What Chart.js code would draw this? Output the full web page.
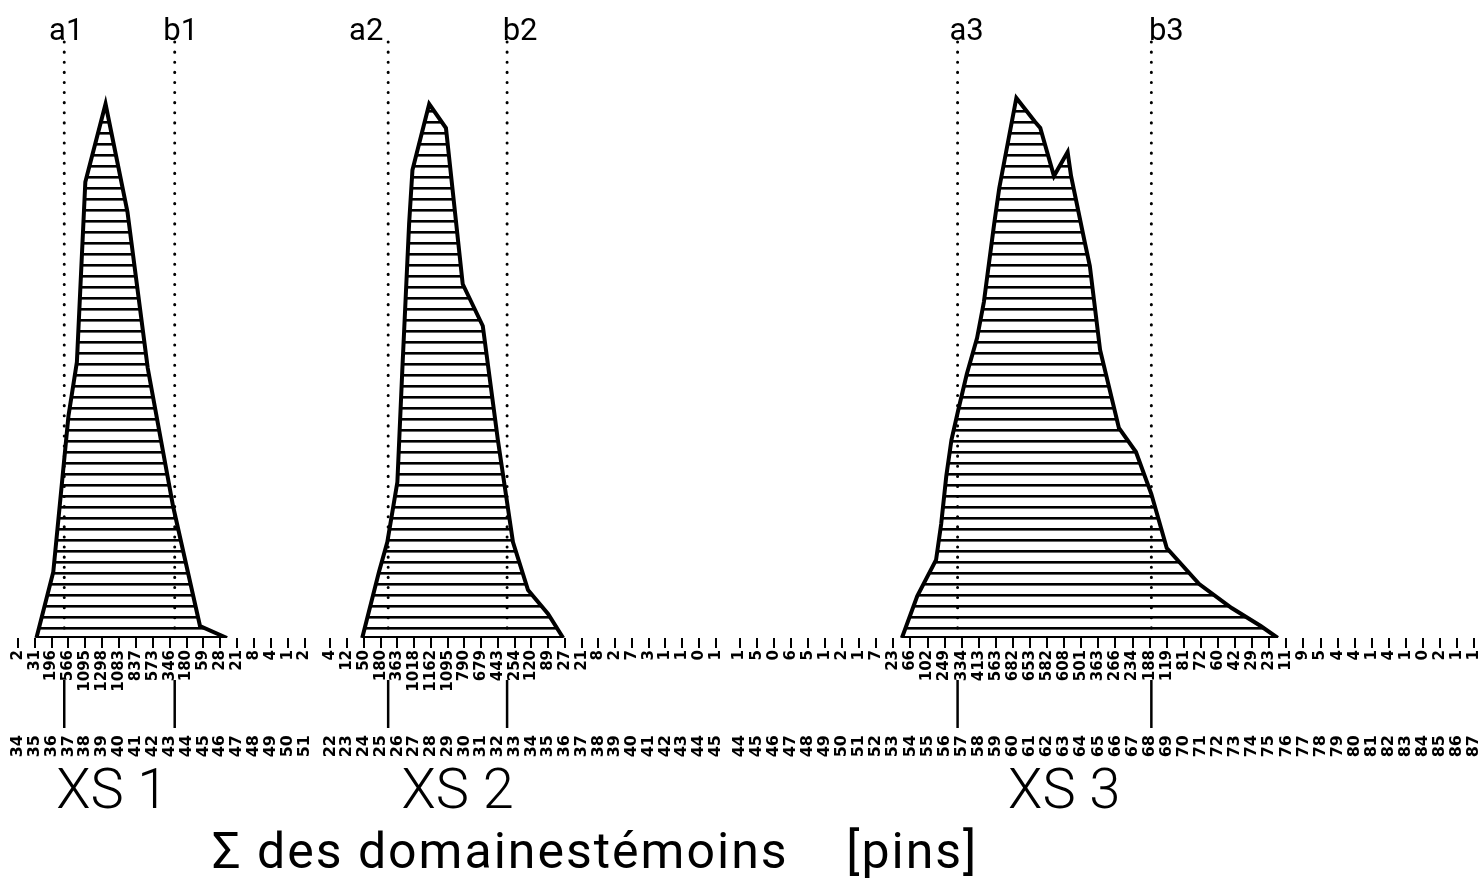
<!DOCTYPE html>
<html>
<head>
<meta charset="utf-8">
<script src="https://cdn.jsdelivr.net/npm/chart.js@4.4.0/dist/chart.umd.min.js"></script>
<style>
  html, body { margin: 0; background: #fff; overflow: hidden; width: 1482px; height: 880px; }
  canvas { position: absolute; top: 0; }
  #caption { position: absolute; left: 212px; top: 826px; font: 50px Roboto, sans-serif; line-height: 50px;
             white-space: pre; letter-spacing: 2px; color: #000; }
</style>
</head>
<body>
<canvas id="xs1" width="312" height="880" style="left:1px"></canvas>
<canvas id="xs2" width="402" height="880" style="left:322px"></canvas>
<canvas id="xs3" width="751" height="880" style="left:731px"></canvas>
<div id="caption">Σ des domainestémoins    [pins]</div>
<script>
// positions (bottom row) and counts (top row) per section
const xs1Pos = [34, 35, 36, 37, 38, 39, 40, 41, 42, 43, 44, 45, 46, 47, 48, 49, 50, 51];
const xs1Counts = [2, 31, 196, 566, 1095, 1298, 1083, 837, 573, 346, 180, 59, 28, 21, 8, 4, 1, 2];
const xs2Pos = [22, 23, 24, 25, 26, 27, 28, 29, 30, 31, 32, 33, 34, 35, 36, 37, 38, 39, 40, 41, 42, 43, 44, 45];
const xs2Counts = [4, 12, 50, 180, 363, 1018, 1162, 1095, 790, 679, 443, 254, 120, 89, 27, 21, 8, 2, 7, 3, 1, 1, 0, 1];
const xs3Pos = [44, 45, 46, 47, 48, 49, 50, 51, 52, 53, 54, 55, 56, 57, 58, 59, 60, 61, 62, 63, 64, 65,
                66, 67, 68, 69, 70, 71, 72, 73, 74, 75, 76, 77, 78, 79, 80, 81, 82, 83, 84, 85, 86, 87];
const xs3Counts = [1, 5, 0, 6, 5, 1, 2, 1, 7, 23, 66, 102, 249, 334, 413, 563, 682, 653, 582, 608, 501, 363,
                   266, 234, 188, 119, 81, 72, 60, 42, 29, 23, 11, 9, 5, 4, 4, 1, 4, 1, 0, 2, 1, 1];

// outline of each profile (x in position units, y in relative height 0-100)
const xs1LineX = [35.1, 36.1, 37.0, 37.5, 38.0, 39.2, 40.5, 41.7, 43.2, 44.8, 46.4];
const xs1LineY = [0, 11, 37, 46, 76, 89, 71, 45, 22, 2, 0];
const xs2LineX = [23.9, 24.9, 25.4, 26.0, 26.3, 26.7, 26.9, 27.9, 28.9, 29.9, 31.1, 32.0, 32.9, 33.8, 35.0, 35.9];
const xs2LineY = [0, 11, 16, 26, 45, 69, 78, 89, 85, 59, 52, 33, 16, 8, 4, 0];
const xs3LineX = [53.5, 54.4, 55.5, 55.8, 56.1, 56.4, 56.8, 57.3, 57.9, 58.3, 58.9, 59.2, 60.2, 61.3, 61.6,
                  62.4, 63.2, 63.4, 64.2, 64.5, 65.1, 66.2, 67.2, 68.1, 69.0, 70.9, 72.8, 74.5, 75.5];
const xs3LineY = [0, 7, 13, 19, 27, 33, 38, 44, 50, 56, 69, 75, 90, 86, 85, 77, 81, 77, 66, 62, 48, 35, 31,
                  24, 15, 9, 5, 2, 0];

// limits a / b
const xs1Limits = [36.75, 43.3];
const xs2Limits = [25.45, 32.55];
const xs3Limits = [56.76, 68.1];

function hatch() {
    const c = document.createElement("canvas");
    c.width = 4;
    c.height = 11;
    const g = c.getContext("2d");
    g.fillStyle = "#000";
    g.fillRect(0, 0, 4, 2.6);
    return g.createPattern(c, "repeat");
}

const annot = {
    id: "annot",
    afterDraw(chart, args, opts) {
        const { ctx, scales: { x } } = chart;
        ctx.save();
        ctx.fillStyle = "#000";
        ctx.strokeStyle = "#000";
        ctx.lineWidth = 2.5;
        ctx.textAlign = "center";
        ctx.textBaseline = "alphabetic";
        ctx.font = "31px Roboto";
        opts.limits.forEach((v, i) => {
            const px = x.getPixelForValue(v);
            ctx.beginPath();
            ctx.moveTo(px, x.bottom - 20);
            ctx.lineTo(px, x.bottom + 28);
            ctx.stroke();
            ctx.fillText(opts.names[i], px + opts.dx[i], 40);
        });
        ctx.font = "300 56px Roboto";
        ctx.fillText(opts.title, x.getPixelForValue(opts.titleAt), 808);
        ctx.restore();
    }
};

function noPad(s) {
    s.paddingLeft = 0;
    s.paddingRight = 0;
}

function makeChart(id, pos, counts, lineX, lineY, limits, range, extra) {
    const outline = lineX.map((v, i) => ({ x: v, y: lineY[i] }));
    const datasets = [
        {
            data: outline,
            borderColor: "#000",
            borderWidth: 4,
            backgroundColor: hatch(),
            fill: "origin",
            pointRadius: 0,
            tension: 0
        },
        {
            data: [{ x: lineX[0], y: 0 }, { x: lineX[lineX.length - 1], y: 0 }],
            borderColor: "#000",
            borderWidth: 4,
            pointRadius: 0,
            fill: false
        }
    ];
    limits.forEach(v => {
        datasets.push({
            data: [{ x: v, y: 0 }, { x: v, y: 100 }],
            borderColor: "#000",
            borderWidth: 3,
            borderDash: [0.1, 10],
            borderCapStyle: "round",
            pointRadius: 0,
            fill: false
        });
    });

    new Chart(document.getElementById(id), {
        type: "line",
        data: { datasets },
        options: {
            responsive: false,
            animation: false,
            events: [],
            layout: { padding: { top: 38, bottom: 80, left: 0, right: 0 } },
            plugins: {
                legend: { display: false },
                tooltip: { enabled: false },
                annot: extra
            },
            scales: {
                x: {
                    type: "linear",
                    position: "bottom",
                    weight: 0,
                    min: range[0],
                    max: range[1],
                    border: { display: false },
                    grid: { drawOnChartArea: false, drawTicks: true, tickLength: 10, color: "#000", lineWidth: 2 },
                    afterBuildTicks: s => { s.ticks = pos.map(v => ({ value: v })); },
                    afterFit: s => { s.height = 62; noPad(s); },
                    ticks: {
                        autoSkip: false,
                        minRotation: 90,
                        maxRotation: 90,
                        padding: 2,
                        color: "#000",
                        font: { family: "DejaVu Sans", size: 15, weight: "bold" },
                        callback: v => counts[pos.indexOf(v)]
                    }
                },
                x2: {
                    type: "linear",
                    position: "bottom",
                    weight: 1,
                    min: range[0],
                    max: range[1],
                    border: { display: false },
                    grid: { drawOnChartArea: false, drawTicks: true, tickLength: 33, color: "rgba(0,0,0,0)" },
                    afterBuildTicks: s => { s.ticks = pos.map(v => ({ value: v })); },
                    afterFit: s => { s.height = 100; noPad(s); },
                    ticks: {
                        autoSkip: false,
                        minRotation: 90,
                        maxRotation: 90,
                        padding: 2,
                        color: "#000",
                        font: { family: "DejaVu Sans", size: 16, weight: "bold" },
                        callback: v => v
                    }
                },
                y: { display: false, min: 0, max: 100 }
            }
        },
        plugins: [annot]
    });
}

makeChart("xs1", xs1Pos, xs1Counts, xs1LineX, xs1LineY, xs1Limits, [33, 51.5],
    { limits: xs1Limits, names: ["a1", "b1"], dx: [2, 6], title: "XS 1", titleAt: 39.6 });
makeChart("xs2", xs2Pos, xs2Counts, xs2LineX, xs2LineY, xs2Limits, [21.5, 45.5],
    { limits: xs2Limits, names: ["a2", "b2"], dx: [-22, 13], title: "XS 2", titleAt: 29.6 });
makeChart("xs3", xs3Pos, xs3Counts, xs3LineX, xs3LineY, xs3Limits, [43.5, 87.45],
    { limits: xs3Limits, names: ["a3", "b3"], dx: [9, 15], title: "XS 3", titleAt: 63 });
</script>
</body>
</html>
